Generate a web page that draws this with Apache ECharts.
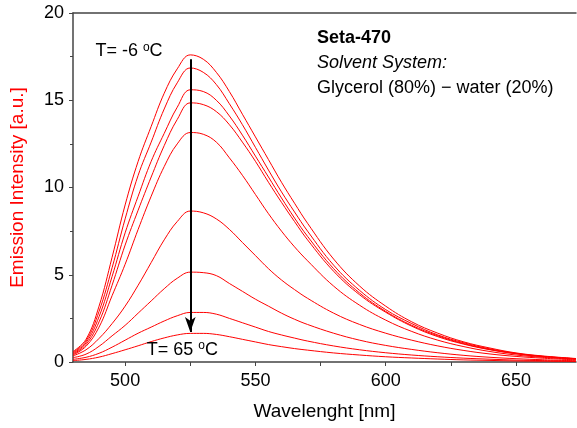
<!DOCTYPE html>
<html>
<head>
<meta charset="utf-8">
<script src="https://cdn.jsdelivr.net/npm/echarts@6/dist/echarts.min.js"></script>
<style>html,body{margin:0;padding:0;background:#fff;}#c{width:577px;height:428px;}</style>
</head>
<body>
<div id="c"></div>
<script>
const wavelengths = [480,485,490,495,500,505,510,515,520,525,530,535,540,545,550,555,560,565,570,580,590,600,610,620,630,640,650,660,673];
const curveM6  = [0.6,1.3,3.2,6.0,9.0,11.5,13.5,15.4,16.8,17.6,17.35,16.6,15.5,14.2,12.9,11.6,10.3,9.1,7.95,5.9,4.35,3.2,2.3,1.65,1.15,0.8,0.52,0.35,0.2];
const curve2   = [0.55,1.2,2.9,5.4,8.2,10.7,12.6,14.5,16.0,16.85,16.6,15.9,14.8,13.6,12.3,11.0,9.75,8.6,7.5,5.55,4.1,3.0,2.2,1.55,1.1,0.75,0.5,0.33,0.19];
const curve3   = [0.5,1.1,2.6,4.9,7.4,9.5,11.5,13.1,14.6,15.6,15.5,15.0,14.1,13.0,11.8,10.6,9.4,8.25,7.2,5.35,3.95,2.9,2.1,1.5,1.05,0.72,0.48,0.32,0.18];
const curve4   = [0.45,1.0,2.3,4.4,6.7,8.7,10.6,12.4,13.9,14.85,14.75,14.35,13.6,12.6,11.5,10.3,9.15,8.05,7.0,5.2,3.85,2.85,2.05,1.45,1.02,0.7,0.47,0.31,0.18];
const curve5   = [0.4,0.9,2.0,3.8,5.6,7.6,9.5,11.2,12.5,13.15,13.05,12.6,11.7,10.7,9.6,8.5,7.5,6.6,5.8,4.35,3.25,2.4,1.75,1.25,0.88,0.6,0.4,0.27,0.15];
const curve6   = [0.35,0.7,1.35,2.2,3.2,4.4,5.7,7.0,8.05,8.65,8.55,8.2,7.6,6.85,6.1,5.35,4.7,4.15,3.65,2.8,2.15,1.65,1.25,0.92,0.66,0.46,0.32,0.22,0.12];
const curve7   = [0.25,0.45,0.9,1.5,2.1,2.8,3.5,4.2,4.8,5.15,5.12,4.95,4.5,4.05,3.6,3.2,2.8,2.45,2.15,1.65,1.25,0.95,0.72,0.53,0.38,0.27,0.19,0.13,0.07];
const curve8   = [0.15,0.27,0.5,0.85,1.25,1.65,2.0,2.35,2.65,2.84,2.84,2.74,2.5,2.25,2.0,1.75,1.55,1.37,1.2,0.92,0.7,0.53,0.4,0.3,0.22,0.16,0.11,0.08,0.05];
const curve65  = [0.08,0.15,0.28,0.48,0.7,0.93,1.17,1.38,1.55,1.64,1.64,1.58,1.45,1.3,1.15,1.0,0.88,0.77,0.68,0.52,0.4,0.3,0.23,0.17,0.12,0.09,0.06,0.045,0.03];
const curves = [curveM6, curve2, curve3, curve4, curve5, curve6, curve7, curve8, curve65];
const xTickValues = [500,525,550,575,600,625,650];
const xLabelValues = [500,550,600,650];
const arrowFromTo = [[525, 17.35], [525, 1.72]];

const FONT = '"Liberation Sans", Arial, sans-serif';
const chart = echarts.init(document.getElementById('c'), null, {renderer:'canvas'});

const series = curves.map((c, idx) => {
  const s = {
    type:'line',
    data: wavelengths.map((w,i)=>[w, c[i]]),
    smooth: 0.4,
    symbol:'none',
    lineStyle:{color:'#ff0000', width:1},
    silent:true,
    z: 2
  };
  if (idx === 0) {
    s.markLine = {
      silent:true,
      symbol:['none','arrow'],
      symbolSize:[8,15],
      label:{show:false},
      lineStyle:{color:'#000', width:2, type:'solid'},
      data:[[{coord:arrowFromTo[0]},{coord:arrowFromTo[1]}]],
      z: 5
    };
  }
  return s;
});

const option = {
  animation:false,
  backgroundColor:'#fff',
  grid:{left:73, right:1, top:13, bottom:66},
  xAxis:[{
    type:'value', min:480, max:673,
    axisLine:{show:true, lineStyle:{color:'#444', width:1.5}},
    axisTick:{show:true, inside:false, length:4, customValues:xTickValues, lineStyle:{color:'#444', width:1}},
    axisLabel:{show:true, customValues:xLabelValues, margin:10, color:'#000', fontSize:18, fontFamily:FONT},
    splitLine:{show:false},
    name:'Wavelenght [nm]', nameLocation:'middle', nameGap:40,
    nameTextStyle:{color:'#000', fontSize:19, fontFamily:FONT}
  },{
    type:'value', min:480, max:673, position:'top',
    axisLine:{show:true, lineStyle:{color:'#444', width:1.5}},
    axisTick:{show:false}, axisLabel:{show:false}, splitLine:{show:false}
  }],
  yAxis:{
    type:'value', min:0, max:20, interval:5,
    axisLine:{show:true, lineStyle:{color:'#444', width:1.5}},
    axisTick:{show:true, inside:false, length:4, lineStyle:{color:'#444', width:1}},
    minorTick:{show:true, splitNumber:2, length:3, lineStyle:{color:'#444', width:1}},
    axisLabel:{margin:9, color:'#000', fontSize:18, fontFamily:FONT},
    splitLine:{show:false},
    name:'Emission Intensity [a.u.]', nameLocation:'middle', nameGap:46, nameRotate:90,
    nameTextStyle:{color:'#ff0000', fontSize:19, fontFamily:FONT}
  },
  series: series
};
chart.setOption(option);

function px(pt){ return chart.convertToPixel({gridIndex:0}, pt); }
const pLow = px([508.3, 0.69]);
const pHigh = px([488.6, 17.8]);
const pInfo = px([573.6, 18.57]);
const rich = {
  a:{fontSize:18, fontFamily:FONT, color:'#000', lineHeight:20},
  s:{fontSize:12, fontFamily:FONT, color:'#000', lineHeight:12, verticalAlign:'top', padding:[0,0,6,0]}
};
chart.setOption({
  graphic:[
    {type:'text', x:pHigh[0], y:pHigh[1], silent:true, z:10,
     style:{text:'{a|T= -6 }{s|o}{a|C}', rich:rich, verticalAlign:'middle', align:'left'}},
    {type:'text', x:pLow[0], y:pLow[1], silent:true, z:10,
     style:{text:'{a|T= 65 }{s|o}{a|C}', rich:rich, verticalAlign:'middle', align:'left'}},
    {type:'text', x:pInfo[0], y:pInfo[1], silent:true, z:10,
     style:{text:'Seta-470', font:'bold 18px ' + FONT, fill:'#000', verticalAlign:'middle'}},
    {type:'text', x:pInfo[0], y:pInfo[1]+25, silent:true, z:10,
     style:{text:'Solvent System:', font:'italic 18px ' + FONT, fill:'#000', verticalAlign:'middle'}},
    {type:'text', x:pInfo[0], y:pInfo[1]+50, silent:true, z:10,
     style:{text:'Glycerol (80%) \u2212 water (20%)', font:'18px ' + FONT, fill:'#000', verticalAlign:'middle'}}
  ]
});
</script>
</body>
</html>
